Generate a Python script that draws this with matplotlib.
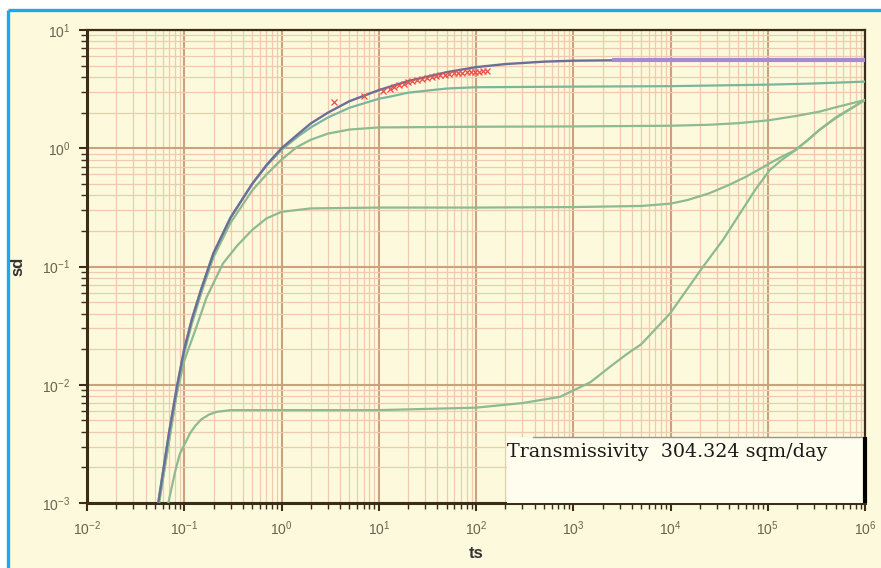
import matplotlib
matplotlib.use("Agg")
import matplotlib.pyplot as plt
from matplotlib.lines import Line2D
from matplotlib.patches import Rectangle

# ---------------- data ----------------
main_ts = [0.054, 0.07, 0.084, 0.1, 0.12, 0.15, 0.2, 0.3, 0.5, 0.7, 1, 1.5, 2, 3, 5,
           10, 20, 50, 100, 200, 500, 1000, 1e4, 1e5, 1e6]
main_sd = [0.001, 0.004, 0.0096, 0.02, 0.036, 0.065, 0.13, 0.26, 0.5, 0.72, 1.0, 1.33, 1.62, 2.0, 2.5,
           3.1, 3.7, 4.4, 4.85, 5.15, 5.4, 5.5, 5.6, 5.62, 5.62]

fit_ts = [2500, 1e6]
fit_sd = [5.62, 5.62]

b1_ts = [0.054, 0.07, 0.084, 0.1, 0.12, 0.15, 0.2, 0.3, 0.5, 0.7, 1, 1.5, 2, 3, 5,
         10, 13, 20, 50, 100, 1000, 1e4, 1e5, 3e5, 1e6]
b1_sd = [0.001, 0.004, 0.0096, 0.02, 0.036, 0.065, 0.13, 0.26, 0.5, 0.71, 0.97, 1.27, 1.5, 1.82, 2.2,
         2.62, 2.73, 2.95, 3.2, 3.28, 3.32, 3.35, 3.45, 3.53, 3.66]

b2_ts = [0.055, 0.085, 0.1, 0.12, 0.15, 0.2, 0.3, 0.5, 0.7, 1, 1.43, 2, 3, 5,
         10, 100, 1000, 1e4, 2.5e4, 5e4, 1e5, 2e5, 3.4e5, 5e5, 1e6]
b2_sd = [0.001, 0.0092, 0.0185, 0.033, 0.06, 0.12, 0.235, 0.44, 0.6, 0.8, 1.02, 1.18, 1.33, 1.44,
         1.5, 1.52, 1.53, 1.55, 1.58, 1.63, 1.72, 1.88, 2.04, 2.22, 2.56]

b3_ts = [0.055, 0.084, 0.1, 0.13, 0.17, 0.25, 0.35, 0.5, 0.7, 1, 2, 10, 100, 1000,
         5000, 1e4, 1.5e4, 2.5e4, 4e4, 6e4, 1.05e5, 1.4e5, 1.93e5, 2.6e5, 3.4e5, 5e5, 1e6]
b3_sd = [0.001, 0.0085, 0.016, 0.029, 0.055, 0.106, 0.15, 0.204, 0.255, 0.29, 0.31, 0.315, 0.315, 0.318,
         0.325, 0.34, 0.365, 0.416, 0.49, 0.575, 0.746, 0.85, 0.966, 1.18, 1.43, 1.8, 2.56]

b4_ts = [0.0686, 0.08, 0.09, 0.1146, 0.13, 0.15, 0.18, 0.216, 0.3, 1, 10, 100, 300, 731, 1500,
         2390, 3500, 5000, 9880, 2.17e4, 3.5e4, 5.19e4, 7.5e4, 1.05e5, 1.4e5, 1.93e5, 2.6e5,
         3.4e5, 5e5, 1e6]
b4_sd = [0.001, 0.0018, 0.0026, 0.00388, 0.0045, 0.0051, 0.0056, 0.0059, 0.0061, 0.0061, 0.0061, 0.0064,
         0.007, 0.0079, 0.0105, 0.0142, 0.018, 0.022, 0.04, 0.1, 0.17, 0.282, 0.45, 0.655, 0.8, 0.966,
         1.18, 1.43, 1.82, 2.56]

obs_ts = [3.5, 7.0, 11, 13, 14.5, 16, 18, 20, 22, 25, 28, 31, 35, 39, 43, 48, 53, 59,
          65, 72, 80, 88, 97, 107, 118, 130]
obs_sd = [2.45, 2.75, 3.05, 3.2, 3.3, 3.4, 3.5, 3.6, 3.7, 3.8, 3.88, 3.95, 4.02, 4.08, 4.15, 4.2, 4.25, 4.3,
          4.33, 4.37, 4.4, 4.42, 4.44, 4.45, 4.46, 4.47]

x_ticks = [1e-2, 1e-1, 1e0, 1e1, 1e2, 1e3, 1e4, 1e5, 1e6]
y_ticks = [1e-3, 1e-2, 1e-1, 1e0, 1e1]
annotation = "Transmissivity  304.324 sqm/day"

# ---------------- figure ----------------
W, H = 881, 568
fig = plt.figure(figsize=(W / 100, H / 100), dpi=100, facecolor="white")
cream = "#fdf9dc"
fig.patches.append(Rectangle((8 / W, 0), 1, 1 - 10 / H, transform=fig.transFigure,
                             facecolor=cream, edgecolor="none", zorder=-10))
fig.add_artist(Line2D([8 / W, 1], [1 - 10 / H, 1 - 10 / H], transform=fig.transFigure,
                      color="#1ea7ea", lw=2.4, solid_capstyle="butt", zorder=-5))
fig.add_artist(Line2D([8 / W, 8 / W], [0, 1 - 10 / H], transform=fig.transFigure,
                      color="#1ea7ea", lw=2.4, solid_capstyle="butt", zorder=-5))

L, R, T, B = 87, 865, 30, 503
ax = fig.add_axes([L / W, 1 - B / H, (R - L) / W, (B - T) / H])
ax.set_zorder(1)
ax.set_facecolor(cream)
ax.set_xscale("log")
ax.set_yscale("log")
ax.set_xlim(1e-2, 1e6)
ax.set_ylim(1e-3, 1e1)

ax.grid(True, which="major", color="#cda07e", lw=1.5, zorder=0)
ax.grid(True, which="minor", color="#f0caae", lw=0.9, zorder=0)
ax.set_axisbelow(True)

green = "#8dba90"
ax.plot(b4_ts, b4_sd, color=green, lw=1.6, zorder=3)
ax.plot(b3_ts, b3_sd, color=green, lw=1.6, zorder=3)
ax.plot(b2_ts, b2_sd, color=green, lw=1.6, zorder=3)
ax.plot(b1_ts, b1_sd, color="#7ab69c", lw=1.6, zorder=3)
ax.plot(main_ts, main_sd, color="#6a6e98", lw=1.7, zorder=4)
ax.plot(fit_ts, fit_sd, color="#a68ad8", lw=3.0, zorder=4, solid_capstyle="butt")
ax.plot(obs_ts, obs_sd, linestyle="none", marker="x", color="#e8504a", ms=4.5, mew=0.9, zorder=5)

# annotation box
ax.add_patch(Rectangle(((507 - L) / (R - L), 0), (R - 507) / (R - L), (B - 437) / (B - T),
                       transform=ax.transAxes, facecolor="#fffdee", edgecolor="none", zorder=6))
ax.plot([(533 - L) / (R - L), 1], [(B - 437) / (B - T)] * 2, transform=ax.transAxes,
        color="#9a958a", lw=1.0, zorder=7)
ax.plot([1, 1], [0, (B - 437) / (B - T)], transform=ax.transAxes, color="black", lw=3.0,
        zorder=8, solid_capstyle="butt", clip_on=False)
ax.text((507 - L) / (R - L), (B - 452) / (B - T), annotation, transform=ax.transAxes,
        ha="left", va="center", fontsize=13.8, family="DejaVu Serif", color="#1a1a1a", zorder=9)

spine_c = "#3b2d18"
for s in ["left", "bottom"]:
    ax.spines[s].set_color(spine_c)
    ax.spines[s].set_linewidth(2.2)
for s in ["top", "right"]:
    ax.spines[s].set_color(spine_c)
    ax.spines[s].set_linewidth(1.6)

ax.set_xticks(x_ticks)
ax.set_yticks(y_ticks)
ax.tick_params(which="major", direction="out", length=6, width=1.5, color=spine_c,
               labelsize=10, labelcolor="#6e624e", pad=6)
ax.tick_params(which="minor", direction="out", length=4, width=1.0, color=spine_c)
for lab in ax.get_xticklabels() + ax.get_yticklabels():
    lab.set_family("Liberation Sans")

ax.set_xlabel("ts", fontsize=12, fontweight="bold", family="Liberation Sans", color="#333333")
ax.set_ylabel("sd", fontsize=12, fontweight="bold", family="Liberation Sans", color="#333333")
ax.xaxis.set_label_coords(0.5, -(546 - B) / (B - T))
ax.yaxis.set_label_coords(-(87 - 25) / (R - L), 0.5)

fig.savefig("out.png", dpi=100, facecolor=fig.get_facecolor())
